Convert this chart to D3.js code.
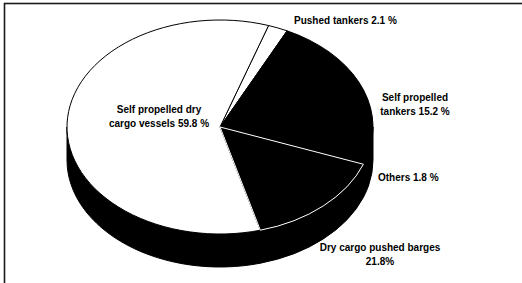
<!DOCTYPE html>
<html>
<head>
<meta charset="utf-8">
<script src="https://cdn.jsdelivr.net/npm/d3@7"></script>
<style>
  html, body { margin: 0; padding: 0; background: #fff; }
  svg { display: block; }
  text { font-family: "Liberation Sans", Arial, sans-serif; font-weight: bold; font-size: 10px; fill: #000; }
</style>
</head>
<body>
<svg width="522" height="283"></svg>
<script>
// slices clockwise from the top, sizes as they are drawn in the picture
const categories = ["Pushed tankers", "Self propelled tankers", "Others", "Dry cargo pushed barges", "Self propelled dry cargo vessels"];
const shares = [2.1, 21.8, 1.8, 15.2, 59.8];
const labelLines = [
  ["Pushed tankers 2.1 %"],
  ["Self propelled", "tankers 15.2 %"],
  ["Others 1.8 %"],
  ["Dry cargo pushed barges", "21.8%"],
  ["Self propelled dry", "cargo vessels 59.8 %"]
];

const svg = d3.select("svg");

// frame (only top and left edges fall inside the picture)
svg.append("rect")
  .attr("x", 4.5).attr("y", 3.5)
  .attr("width", 700).attr("height", 400)
  .attr("fill", "none").attr("stroke", "#1a1a1a").attr("stroke-width", 1.6);

const cx = 220, cy = 127, rx = 153, ry = 107, depth = 33;

const fill = d3.scaleOrdinal(categories, ["#fff", "#000", "#000", "#000", "#fff"]);
const edge = d3.scaleOrdinal(categories, ["#000", "#000", "#000", "#fff", "#000"]);
const side = d3.scaleOrdinal(categories, ["#000", "#000", "#000", "#000", "#000"]);

const startA = 18.5 * Math.PI / 180;
const pie = d3.pie().sort(null).value(d => d.v)
  .startAngle(startA).endAngle(startA + 2 * Math.PI);
const arcs = pie(categories.map((c, i) => ({c, v: shares[i], i})));

const pt = (a, dz = 0) => [cx + rx * Math.sin(a), cy - ry * Math.cos(a) + dz];

function topPath(d) {
  const p = d3.path();
  const [x0, y0] = pt(d.startAngle), [x1, y1] = pt(d.endAngle);
  const large = d.endAngle - d.startAngle > Math.PI ? 1 : 0;
  return `M${cx},${cy}L${x0},${y0}A${rx},${ry} 0 ${large} 1 ${x1},${y1}Z`;
}

function sidePath(d) {
  const s0 = Math.max(d.startAngle, Math.PI / 2), s1 = Math.min(d.endAngle, 3 * Math.PI / 2);
  if (s1 <= s0) return null;
  const [x0, y0] = pt(s0), [x1, y1] = pt(s1);
  const [x2, y2] = pt(s1, depth), [x3, y3] = pt(s0, depth);
  return `M${x0},${y0}A${rx},${ry} 0 0 1 ${x1},${y1}L${x2},${y2}A${rx},${ry} 0 0 0 ${x3},${y3}Z`;
}

// walls
svg.append("g").selectAll("path")
  .data(arcs.filter(sidePath))
  .join("path")
    .attr("d", sidePath)
    .attr("fill", d => side(d.data.c))
    .attr("stroke", d => side(d.data.c))
    .attr("stroke-width", 1);

// top faces, white-edged slice last so its outline stays visible
const order = [0, 1, 2, 4, 3];
svg.append("g").selectAll("path")
  .data(order.map(i => arcs[i]))
  .join("path")
    .attr("d", topPath)
    .attr("fill", d => fill(d.data.c))
    .attr("stroke", d => edge(d.data.c))
    .attr("stroke-width", 1)
    .attr("stroke-linejoin", "round");

// labels
const labelLayout = [
  {x: 294, y: 24, anchor: "start"},
  {x: 415, y: 101, anchor: "middle"},
  {x: 378, y: 181, anchor: "start"},
  {x: 380, y: 251, anchor: "middle"},
  {x: 159, y: 113, anchor: "middle"}
];

const labels = svg.append("g").selectAll("text")
  .data(labelLines)
  .join("text")
    .attr("x", (d, i) => labelLayout[i].x)
    .attr("y", (d, i) => labelLayout[i].y)
    .attr("text-anchor", (d, i) => labelLayout[i].anchor);

labels.selectAll("tspan")
  .data((d, i) => d.map(t => ({t, x: labelLayout[i].x})))
  .join("tspan")
    .attr("x", d => d.x)
    .attr("dy", (d, j) => j ? 13.5 : 0)
    .text(d => d.t);
</script>
</body>
</html>
